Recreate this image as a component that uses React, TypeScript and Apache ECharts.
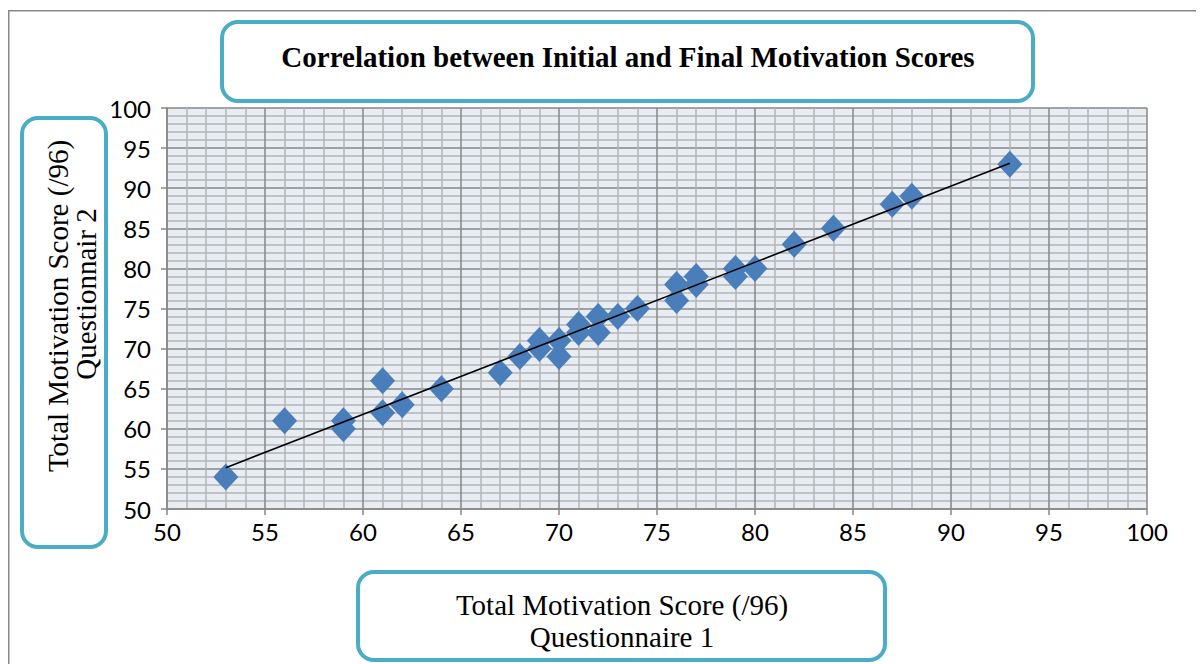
import React, { useEffect, useRef } from "react";
import * as echarts from "echarts";

const q1Scores = [53, 56, 59, 59, 61, 61, 62, 64, 67, 68, 69, 69, 70, 70, 71, 71, 72, 72, 73, 74, 76, 76, 77, 77, 79, 79, 80, 82, 84, 87, 88, 93];
const q2Scores = [54, 61, 61, 60, 66, 62, 63, 65, 67, 69, 71, 70, 71, 69, 73, 72, 74, 72, 74, 75, 78, 76, 79, 78, 80, 79, 80, 83, 85, 88, 89, 93];

const titleText = "Correlation between Initial and Final Motivation Scores";
const xTitleLines = ["Total Motivation Score (/96)", "Questionnaire 1"];
const yTitleLines = ["Total Motivation Score (/96)", "Questionnair 2"];
const axisMin = 50;
const axisMax = 100;
const axisInterval = 5;

function regression(xs: number[], ys: number[]) {
  const n = xs.length;
  const mx = xs.reduce((a, b) => a + b, 0) / n;
  const my = ys.reduce((a, b) => a + b, 0) / n;
  let sxy = 0;
  let sxx = 0;
  for (let i = 0; i < n; i++) {
    sxy += (xs[i] - mx) * (ys[i] - my);
    sxx += (xs[i] - mx) * (xs[i] - mx);
  }
  const slope = sxy / sxx;
  return { slope, intercept: my - slope * mx };
}

export default function App() {
  const ref = useRef<HTMLDivElement>(null);
  useEffect(() => {
    if (!ref.current) return;
    const chart = echarts.init(ref.current, null, { renderer: "svg" });
    const { slope, intercept } = regression(q1Scores, q2Scores);
    const xLo = Math.min(...q1Scores);
    const xHi = Math.max(...q1Scores);
    const trend = [
      [xLo, intercept + slope * xLo],
      [xHi, intercept + slope * xHi],
    ];
    const points = q1Scores.map((x, i) => [x, q2Scores[i]]);
    const majorColor = "#878787";
    const minorColor = "#b4b4b4";
    const tickLabel = { fontFamily: "Lato", fontSize: 24, color: "#000" };
    const serif = "Liberation Serif";
    const boxStyle = { fill: "#fff", stroke: "#4bacc6", lineWidth: 4 };
    const textStyle = (text: string, bold = false) => ({
      text,
      fontFamily: serif,
      fontSize: 29,
      fontWeight: bold ? "bold" : "normal",
      fill: "#000",
      textAlign: "center",
      textVerticalAlign: "middle",
    });
    const axisCommon = {
      type: "value",
      min: axisMin,
      max: axisMax,
      interval: axisInterval,
      axisLine: { show: true, lineStyle: { color: majorColor, width: 1.5 } },
      axisTick: { show: true, length: 6, lineStyle: { color: majorColor, width: 1.5 } },
      splitLine: { show: true, lineStyle: { color: majorColor, width: 1.5 } },
      minorTick: { show: false, splitNumber: 5 },
      minorSplitLine: { show: true, lineStyle: { color: minorColor, width: 1.5 } },
    };
    chart.setOption({
      animation: false,
      backgroundColor: "#fff",
      grid: {
        left: 159,
        top: 100,
        width: 980,
        height: 401,
        show: true,
        backgroundColor: "#e8ecf3",
        borderWidth: 0,
      },
      xAxis: {
        ...axisCommon,
        axisLabel: { ...tickLabel, margin: 10 },
      },
      yAxis: {
        ...axisCommon,
        axisLabel: { ...tickLabel, margin: 16 },
      },
      series: [
        {
          type: "scatter",
          data: points,
          symbol: "diamond",
          symbolSize: [25, 27],
          itemStyle: { color: "#4a7ebb", opacity: 1 },
          z: 3,
        },
        {
          type: "line",
          data: trend,
          symbol: "none",
          lineStyle: { color: "#000", width: 1.6 },
          z: 4,
        },
      ],
      graphic: [
        {
          type: "polyline",
          shape: { points: [[0.75, 660], [0.75, 2.75], [1200, 2.75]] },
          style: { stroke: "#888", lineWidth: 1.5, fill: null },
        },
        {
          type: "rect",
          shape: { x: 214, y: 14, width: 811, height: 79, r: 16 },
          style: boxStyle,
        },
        { type: "text", x: 620, y: 49, style: textStyle(titleText, true) },
        {
          type: "rect",
          shape: { x: 14, y: 110, width: 84, height: 429, r: 16 },
          style: boxStyle,
        },
        { type: "text", x: 50, y: 298, rotation: Math.PI / 2, style: textStyle(yTitleLines[0]) },
        { type: "text", x: 78, y: 286, rotation: Math.PI / 2, style: textStyle(yTitleLines[1]) },
        {
          type: "rect",
          shape: { x: 350, y: 564, width: 527, height: 88, r: 16 },
          style: boxStyle,
        },
        { type: "text", x: 614, y: 597, style: textStyle(xTitleLines[0]) },
        { type: "text", x: 614, y: 629, style: textStyle(xTitleLines[1]) },
      ],
    });
    return () => chart.dispose();
  }, []);
  return <div ref={ref} style={{ width: 1196, height: 656 }} />;
}
